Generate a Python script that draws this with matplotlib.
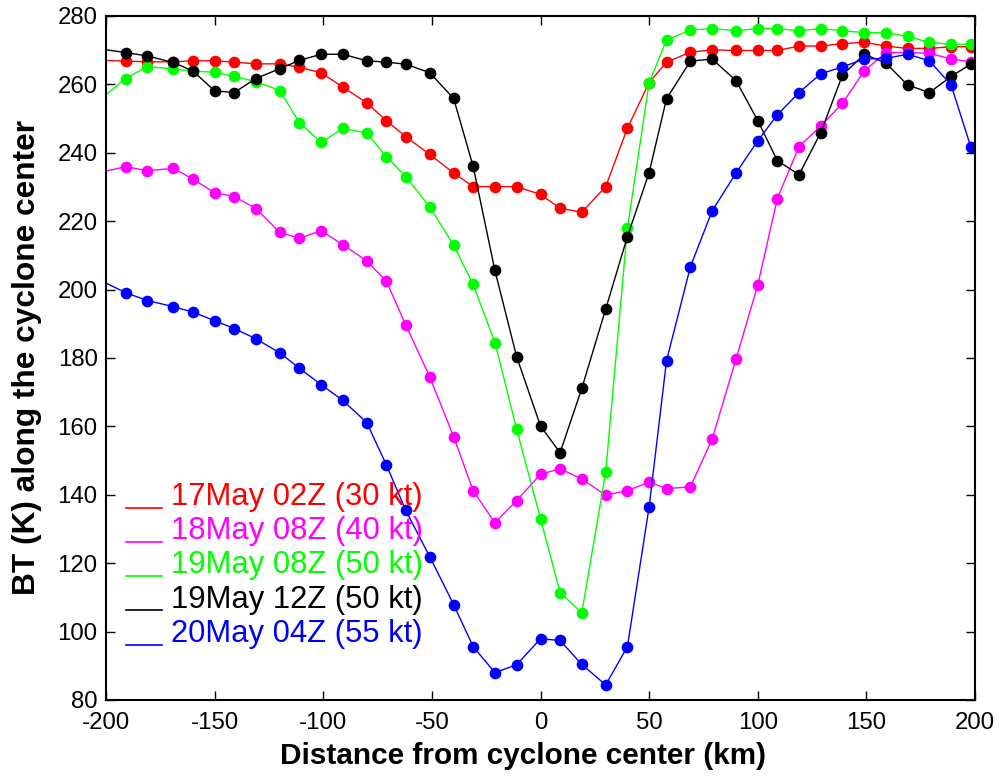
import matplotlib
matplotlib.use('Agg')
import matplotlib.pyplot as plt

plt.rcParams['font.family'] = ['Liberation Sans', 'DejaVu Sans']
plt.rcParams['axes.unicode_minus'] = False

# distance from cyclone center (km); first point sits just outside the axis
dist = [-201, -191, -181, -169, -160, -150, -141, -131, -120, -111, -101,
        -91, -80, -71, -62, -51, -40, -31, -21, -11, 0,
        9, 19, 30, 40, 50, 58, 69, 79, 90, 100,
        109, 119, 129, 139, 149, 159, 169, 179, 189, 198]

bt_17may02 = [267.0, 266.8, 266.6, 266.6, 266.9, 266.9, 266.5, 266.0, 266.0, 265.0, 263.4,
              259.2, 254.6, 249.4, 244.7, 239.5, 234.1, 230.1, 230.1, 230.1, 227.8,
              223.8, 222.6, 230.1, 247.2, 260.5, 266.5, 269.4, 270.1, 269.9, 269.9,
              269.9, 271.2, 271.2, 271.9, 272.3, 271.2, 270.5, 270.5, 271.0, 271.0]

bt_18may08 = [234.5, 235.9, 234.8, 235.4, 232.3, 228.3, 227.2, 223.7, 216.7, 215.0, 217.2,
              213.1, 208.4, 202.5, 189.6, 174.5, 157.0, 141.2, 131.8, 138.3, 146.0,
              147.6, 144.6, 139.9, 141.2, 143.7, 141.8, 142.3, 156.3, 179.7, 201.3,
              226.6, 241.8, 247.8, 254.5, 263.9, 269.3, 269.3, 269.1, 267.4, 266.6]

bt_19may08 = [256.4, 261.7, 265.2, 264.5, 263.9, 263.5, 262.3, 260.8, 258.2, 248.8, 243.0,
              247.1, 245.8, 238.9, 233.0, 224.2, 213.0, 201.5, 184.5, 159.2, 133.0,
              111.4, 105.5, 146.6, 217.9, 260.5, 272.9, 275.9, 276.3, 275.7, 276.3,
              276.3, 275.7, 276.3, 275.7, 275.1, 275.1, 274.0, 272.3, 271.7, 271.7]

bt_19may12 = [270.2, 269.3, 268.3, 266.4, 263.9, 258.1, 257.6, 261.7, 264.6, 267.0, 268.8,
              268.8, 266.9, 266.5, 265.9, 263.4, 255.9, 236.0, 205.6, 180.4, 160.1,
              152.3, 171.1, 194.3, 215.5, 234.2, 255.8, 266.8, 267.4, 261.1, 249.4,
              237.7, 233.6, 245.9, 262.7, 268.8, 266.2, 259.8, 257.6, 262.3, 265.9]

bt_20may04 = [202.2, 199.1, 196.8, 195.0, 193.4, 190.9, 188.6, 185.6, 181.5, 177.0, 172.2,
              167.6, 161.1, 148.8, 135.4, 121.9, 107.9, 95.6, 88.0, 90.3, 97.9,
              97.4, 90.4, 84.4, 95.6, 136.5, 179.2, 206.7, 223.0, 234.1, 243.5,
              251.1, 257.6, 263.1, 265.1, 267.4, 267.6, 268.8, 266.9, 259.8, 241.8]

labels = ['17May 02Z (30 kt)', '18May 08Z (40 kt)', '19May 08Z (50 kt)',
          '19May 12Z (50 kt)', '20May 04Z (55 kt)']
colors = ['#ff0000', '#ff00ff', '#00ff00', '#000000', '#0000ff']
series = [bt_17may02, bt_18may08, bt_19may08, bt_19may12, bt_20may04]


fig = plt.figure(figsize=(10.03, 7.82), dpi=100)
ax = fig.add_axes([0.1057, 0.1049, 0.8664, 0.8747])

marks = [d >= -200 for d in dist]
for vals, col in zip(series, colors):
    ax.plot(dist, vals, '-', color=col, lw=1.0, marker='o', markersize=7.4,
            markerfacecolor=col, markeredgecolor=col, markevery=marks)

ax.set_xlim(-200, 200)
ax.set_ylim(80, 280)
ax.set_xticks(range(-200, 201, 50))
ax.set_yticks(range(80, 281, 20))
ax.tick_params(direction='in', length=6.5, width=1.0, top=True, right=True,
               labelsize=17.3, pad=6)
ax.tick_params(axis='x', pad=9)
for sp in ax.spines.values():
    sp.set_linewidth(1.5)

ax.set_xlabel('Distance from cyclone center (km)', fontsize=21.4, fontweight='bold')
ax.xaxis.set_label_coords(0.48, -0.062)
ax.set_ylabel('BT (K) along the cyclone center', fontsize=22.8, fontweight='bold', labelpad=11)

# hand-made legend: short line + coloured text
for i, (lab, col) in enumerate(zip(labels, colors)):
    yb = 0.285 - 0.05 * i
    ax.plot([0.023, 0.0644], [yb - 0.004, yb - 0.004], color=col, lw=1.2,
            transform=ax.transAxes, clip_on=False)
    ax.text(0.0745, yb, lab, color=col, fontsize=22.3, va='baseline', ha='left',
            transform=ax.transAxes)

fig.savefig('out.png', dpi=100)
